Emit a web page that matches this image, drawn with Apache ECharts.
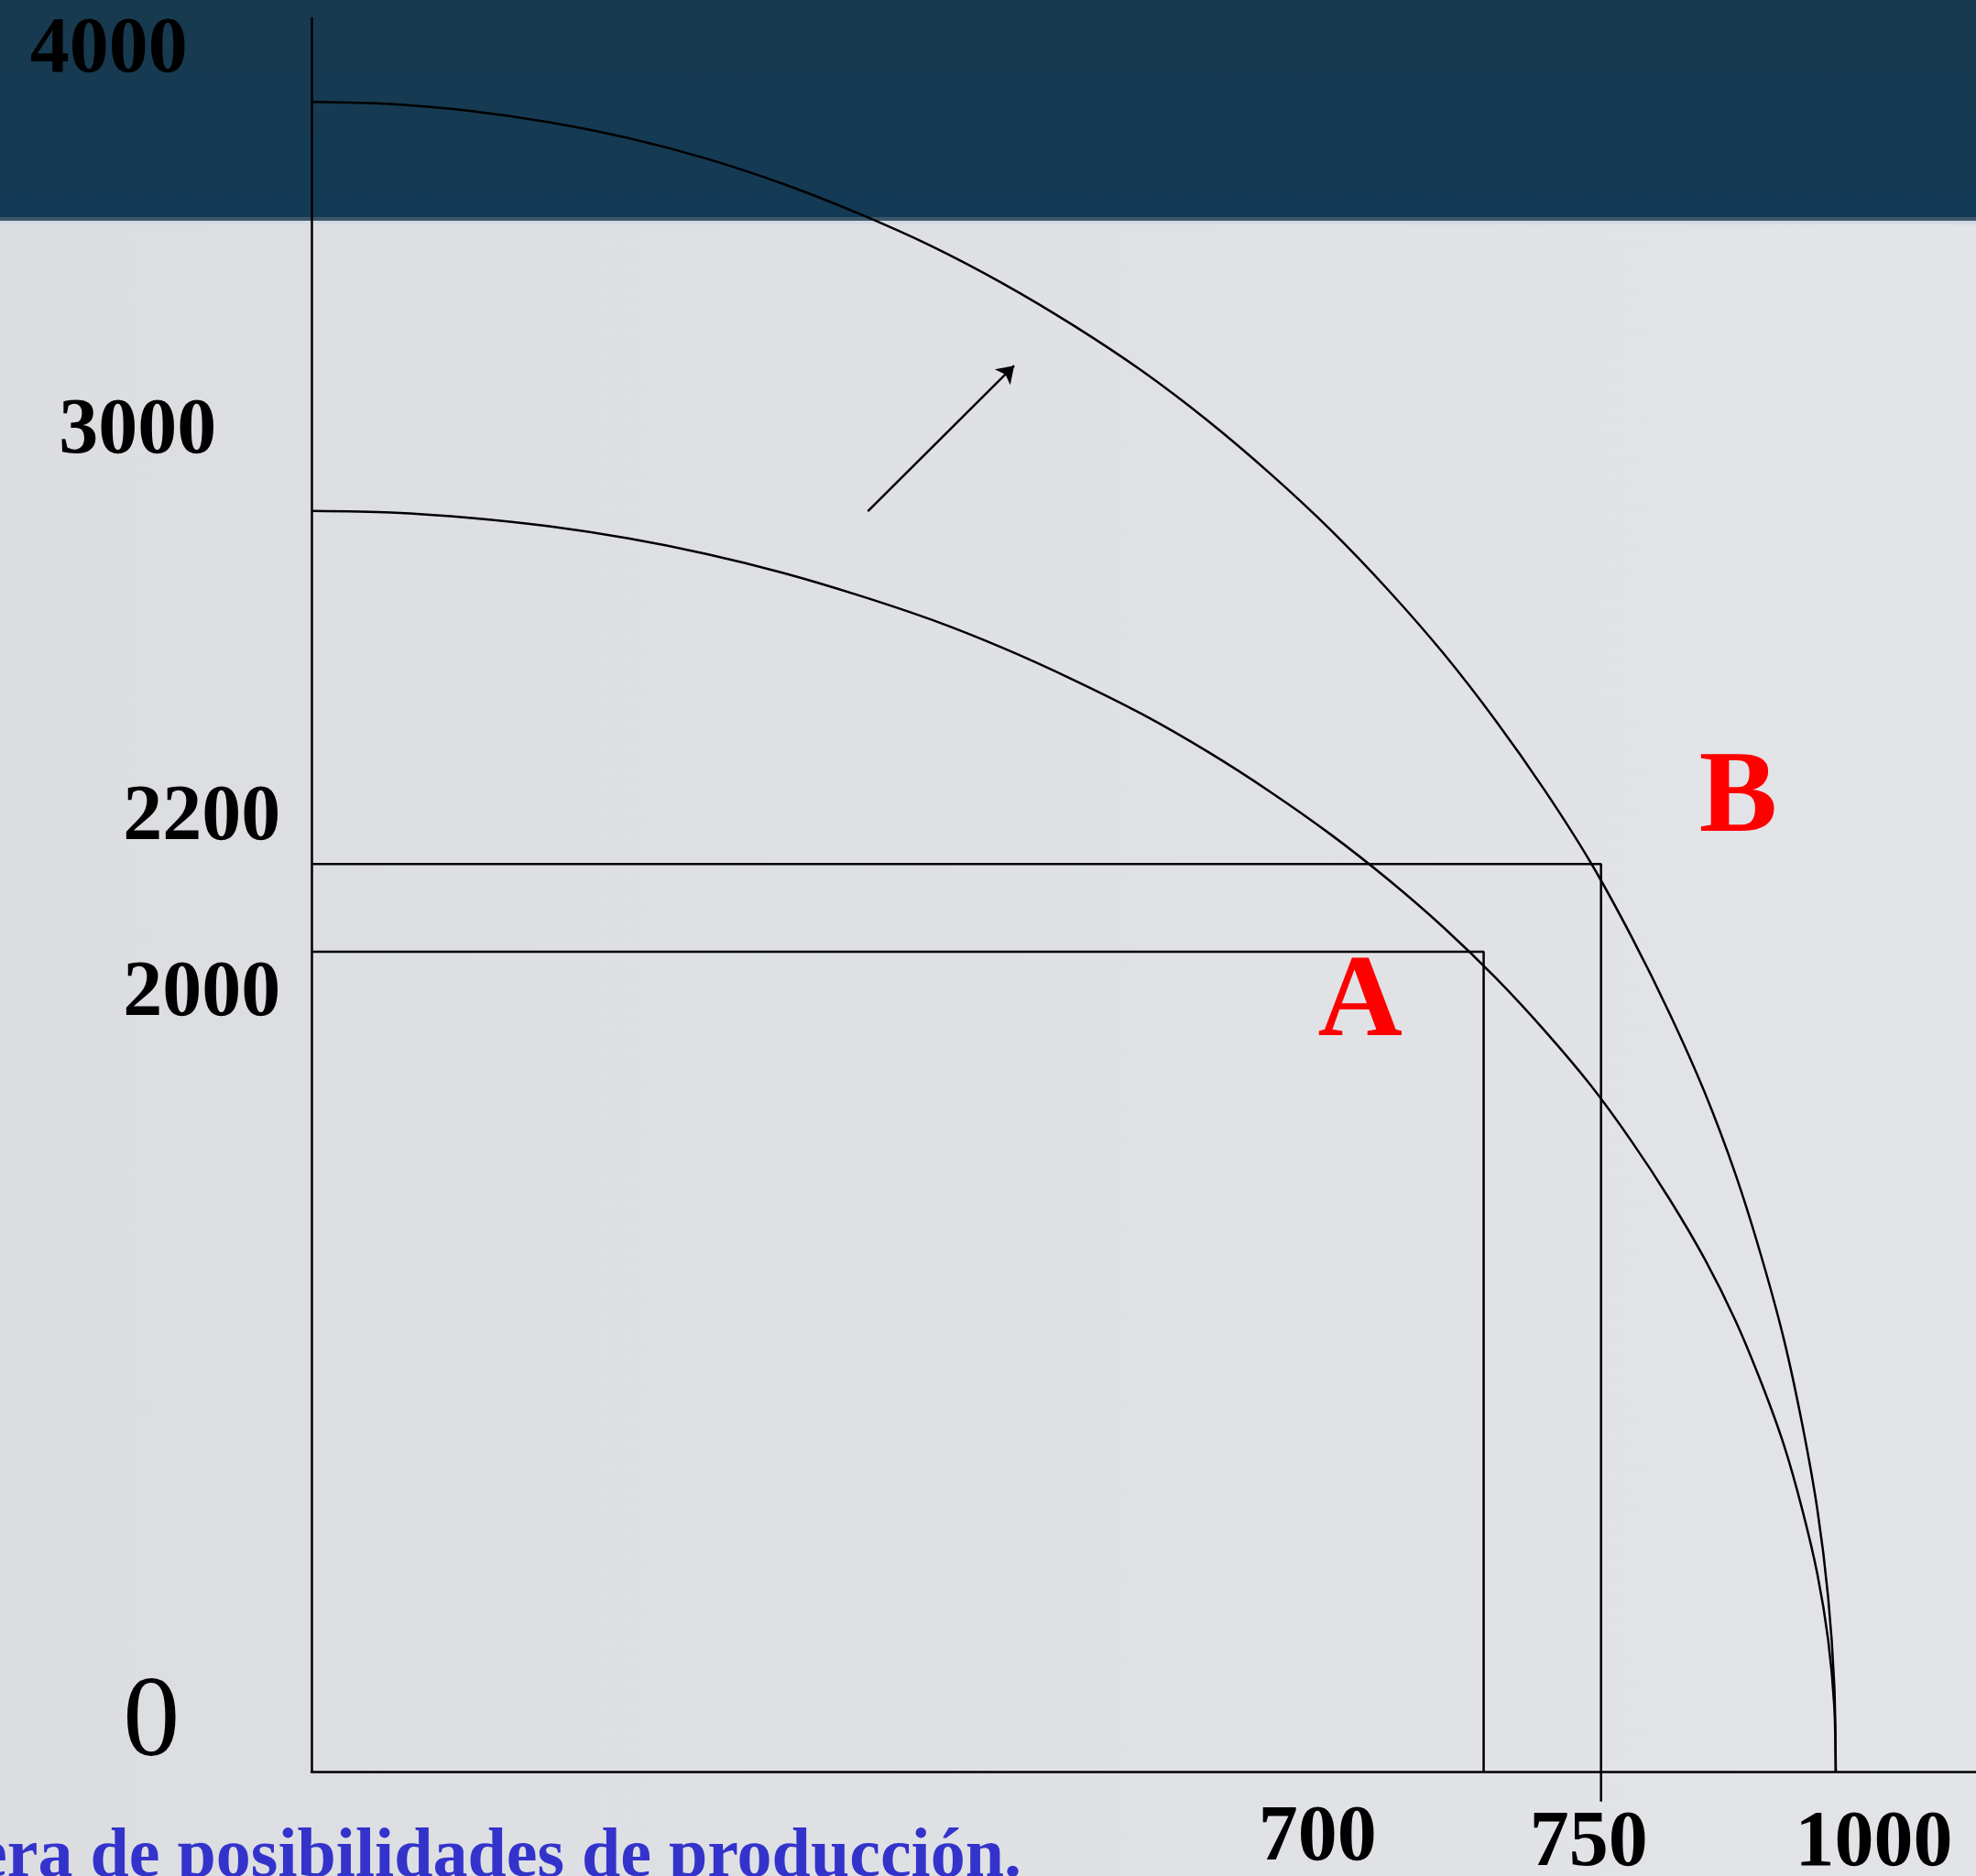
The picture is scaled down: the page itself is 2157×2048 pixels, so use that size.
<!DOCTYPE html>
<html>
<head>
<meta charset="utf-8">
<title>Frontera de posibilidades de producción</title>
<script src="https://cdn.jsdelivr.net/npm/echarts@6/dist/echarts.min.js"></script>
<style>
  html, body { margin: 0; padding: 0; }
  #main { width: 2157px; height: 2048px; }
</style>
</head>
<body>
<div id="main"></div>
<script>
// curvas de la frontera (unidades del dibujo: x 0-1000, y 0-4000)
var fppX = [0, 52, 105, 156, 208, 259, 309, 358, 407, 454, 500, 545, 588, 629, 669, 707,
  743, 777, 809, 839, 866, 891, 914, 934, 951, 966, 978, 988, 995, 999, 1000];
var fppNuevaY = [4000, 3995, 3978, 3951, 3913, 3864, 3804, 3734, 3654, 3564, 3464, 3355, 3236, 3109, 2973, 2828,
  2677, 2517, 2351, 2179, 2000, 1816, 1627, 1433, 1236, 1035, 832, 626, 418, 209, 0];
var fppInicialY = [3020, 3016, 3003, 2983, 2954, 2917, 2872, 2819, 2759, 2691, 2615, 2533, 2443, 2347, 2244, 2135,
  2021, 1901, 1775, 1645, 1510, 1371, 1228, 1082, 933, 782, 628, 472, 316, 158, 0];

// puntos A y B tal como estan dibujados
var puntoA = [769, 1964];
var puntoB = [846, 2174];
var finCaidaB = -72;   // la linea de B baja un poco por debajo del eje

// flecha de desplazamiento
var flecha = [[365, 3019], [461, 3368]];

// etiquetas de los ejes
var yTickLabels = ['4000', '3000', '2200', '2000', '0'];
var yTickAt = [[-133, 4134], [-114, 3221], [-72, 2295], [-72, 1874], [-105, 125]];
var xTickLabels = ['700', '750', '1000'];
var xTickAt = [[660, -149], [838, -162], [1025, -162]];
var puntoLabels = ['A', 'B'];
var puntoLabelAt = [[688, 1850], [936, 2339]];

var serif = "'Liberation Serif', 'Times New Roman', serif";
var grosor = 2.5;

function toPairs(xs, ys) {
  return xs.map(function (x, i) { return [x, ys[i]]; });
}

var labelData = [];
yTickLabels.forEach(function (t, i) {
  labelData.push({
    value: yTickAt[i], name: t,
    label: t === '0' ? { fontSize: 124, fontWeight: 'normal' } : {}
  });
});
xTickLabels.forEach(function (t, i) {
  labelData.push({ value: xTickAt[i], name: t });
});
puntoLabels.forEach(function (t, i) {
  labelData.push({ value: puntoLabelAt[i], name: t, label: { fontSize: 128, color: '#ff0000' } });
});

var myChart = echarts.init(document.getElementById('main'));

var option = {
  animation: false,
  backgroundColor: new echarts.graphic.LinearGradient(0, 0, 1, 0, [
    { offset: 0, color: '#dcdde1' },
    { offset: 1, color: '#e3e4e8' }
  ]),
  grid: { left: 340, right: 0, top: 20, bottom: 114, outerBoundsMode: 'none' },
  xAxis: {
    type: 'value', min: 0, max: 1092,
    axisLine: { show: true, onZero: false, lineStyle: { color: '#000', width: grosor } },
    axisTick: { show: false }, axisLabel: { show: false }, splitLine: { show: false }
  },
  yAxis: {
    type: 'value', min: 0, max: 4200,
    axisLine: { show: true, onZero: false, lineStyle: { color: '#000', width: grosor } },
    axisTick: { show: false }, axisLabel: { show: false }, splitLine: { show: false }
  },
  graphic: [
    {
      type: 'rect', z: -10, silent: true,
      shape: { x: 0, y: 0, width: 2157, height: 237 },
      style: {
        fill: new echarts.graphic.LinearGradient(0, 0, 0, 1, [
          { offset: 0, color: '#183a4f' },
          { offset: 1, color: '#133a55' }
        ])
      }
    },
    { type: 'rect', z: -10, silent: true, shape: { x: 0, y: 237, width: 2157, height: 4 }, style: { fill: '#3f5668' } },
    { type: 'rect', z: -10, silent: true, shape: { x: 0, y: 241, width: 2157, height: 4 }, style: { fill: '#d3dae3' } },
    {
      type: 'text', z: 10, silent: true,
      style: {
        text: 'Frontera de posibilidades de producción.',
        x: 1115, y: 2066, align: 'right', verticalAlign: 'bottom',
        font: 'bold 76px ' + serif, fill: '#3333cc'
      }
    }
  ],
  series: [
    {
      name: 'FPP nueva', type: 'line', data: toPairs(fppX, fppNuevaY),
      smooth: 0.3, showSymbol: false, symbol: 'none',
      lineStyle: { color: '#000', width: grosor }
    },
    {
      name: 'FPP inicial', type: 'line', data: toPairs(fppX, fppInicialY),
      smooth: 0.3, showSymbol: false, symbol: 'none',
      lineStyle: { color: '#000', width: grosor },
      markLine: {
        silent: true, symbol: ['none', 'arrow'], symbolSize: 18,
        label: { show: false },
        lineStyle: { color: '#000', width: grosor, type: 'solid' },
        data: [[{ coord: flecha[0] }, { coord: flecha[1] }]]
      }
    },
    {
      name: 'A', type: 'line', clip: false, showSymbol: false, symbol: 'none',
      data: [[0, puntoA[1]], puntoA, [puntoA[0], 0]],
      lineStyle: { color: '#000', width: grosor }
    },
    {
      name: 'B', type: 'line', clip: false, showSymbol: false, symbol: 'none',
      data: [[0, puntoB[1]], puntoB, [puntoB[0], finCaidaB]],
      lineStyle: { color: '#000', width: grosor }
    },
    {
      name: 'etiquetas', type: 'scatter', clip: false, symbolSize: 0,
      itemStyle: { color: 'transparent', opacity: 1 }, silent: true,
      data: labelData,
      label: {
        show: true, position: 'inside', formatter: '{b}', offset: [0, 6], opacity: 1,
        fontFamily: serif, fontWeight: 'bold', fontSize: 86, color: '#000'
      }
    }
  ]
};

myChart.setOption(option);
</script>
</body>
</html>
